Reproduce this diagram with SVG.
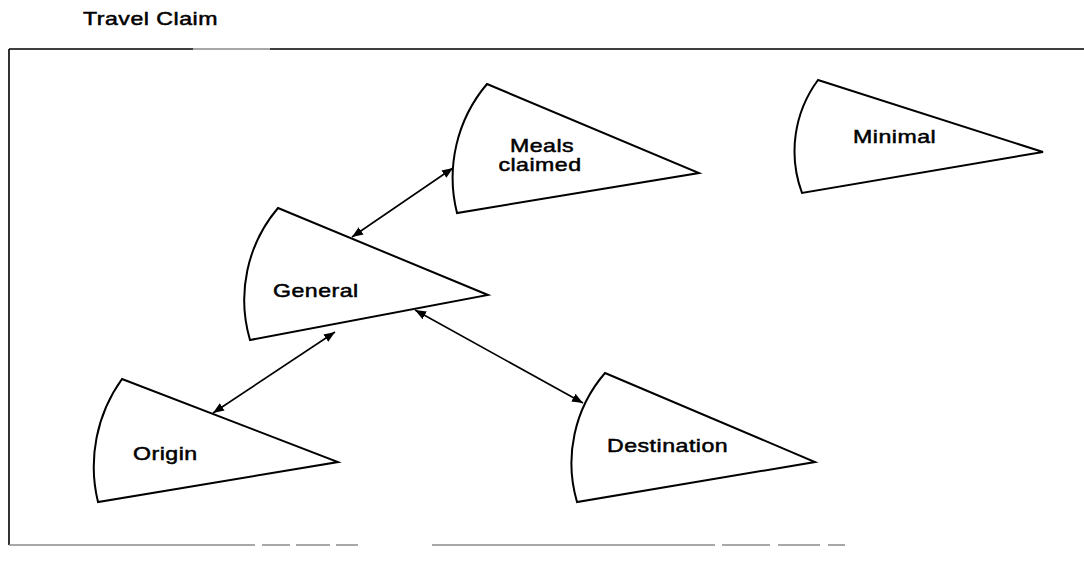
<svg xmlns="http://www.w3.org/2000/svg" width="1084" height="563" viewBox="0 0 1084 563">
  <style>
    .bg { fill: #ffffff; }
    .frame { fill: none; stroke: #000; stroke-width: 1.6; }
    .frame-faint { fill: none; stroke: #8a8a8a; stroke-width: 1.4; }
    .sector { fill: #ffffff; stroke: #000; stroke-width: 2; stroke-linejoin: miter; }
    .label { font-family: "Liberation Sans", Arial, Helvetica, sans-serif; font-size: 18.5px; fill: #000; stroke: #000; stroke-width: 0.5; letter-spacing: 0.4px; }
    .link { fill: none; stroke: #000; stroke-width: 1.6; marker-start: url(#head); marker-end: url(#head); }
  </style>
  <defs>
    <marker id="head" viewBox="0 0 10 10" refX="10" refY="5" markerWidth="11" markerHeight="11" markerUnits="userSpaceOnUse" orient="auto-start-reverse">
      <path d="M0,1 L10,5 L0,9 Z" fill="#000"/>
    </marker>
  </defs>

  <rect class="bg" x="0" y="0" width="1084" height="563"/>

  <!-- heading; labels use a widened sans face -->
  <text class="label" transform="translate(83 25) scale(1.25 1)">Travel Claim</text>

  <!-- enclosing frame (open on the right) -->
  <g id="frame">
    <path class="frame" d="M9,49 H193 M270,49 H1084 M9,49 V545"/>
    <path class="frame-faint" d="M193,49 H270"/>
    <path class="frame-faint" d="M9,545 H255 M262,545 H290 M296,545 H330 M336,545 H358 M432,545 H715 M722,545 H770 M778,545 H820 M828,545 H845"/>
  </g>

  <!-- connectors -->
  <g id="connectors">
    <line class="link" x1="453" y1="168" x2="352" y2="237"/>
    <line class="link" x1="335" y1="332" x2="213" y2="413"/>
    <line class="link" x1="415" y1="310" x2="583" y2="403"/>
  </g>

  <!-- nodes: sector shapes, straight edges meeting at the right tip, arc on the left -->
  <g id="node-meals">
    <path class="sector" d="M487,84 L699,173 L457,213 A145,145 0 0 1 487,84 Z"/>
    <text class="label" text-anchor="middle" transform="translate(542 152) scale(1.25 1)">Meals</text>
    <text class="label" text-anchor="middle" transform="translate(540 171) scale(1.25 1)">claimed</text>
  </g>

  <g id="node-minimal">
    <path class="sector" d="M818,80 L1043,152 L802,193 A120,120 0 0 1 818,80 Z"/>
    <text class="label" transform="translate(853 143) scale(1.25 1)">Minimal</text>
  </g>

  <g id="node-general">
    <path class="sector" d="M278,208 L488,295 L250,340 A142,142 0 0 1 278,208 Z"/>
    <text class="label" transform="translate(273 297) scale(1.25 1)">General</text>
  </g>

  <g id="node-origin">
    <path class="sector" d="M122,379 L338,462 L98,502 A150,150 0 0 1 122,379 Z"/>
    <text class="label" transform="translate(133 460) scale(1.25 1)">Origin</text>
  </g>

  <g id="node-destination">
    <path class="sector" d="M605,373 L815,462 L577,502 A138,138 0 0 1 605,373 Z"/>
    <text class="label" transform="translate(607 452) scale(1.25 1)">Destination</text>
  </g>
</svg>
